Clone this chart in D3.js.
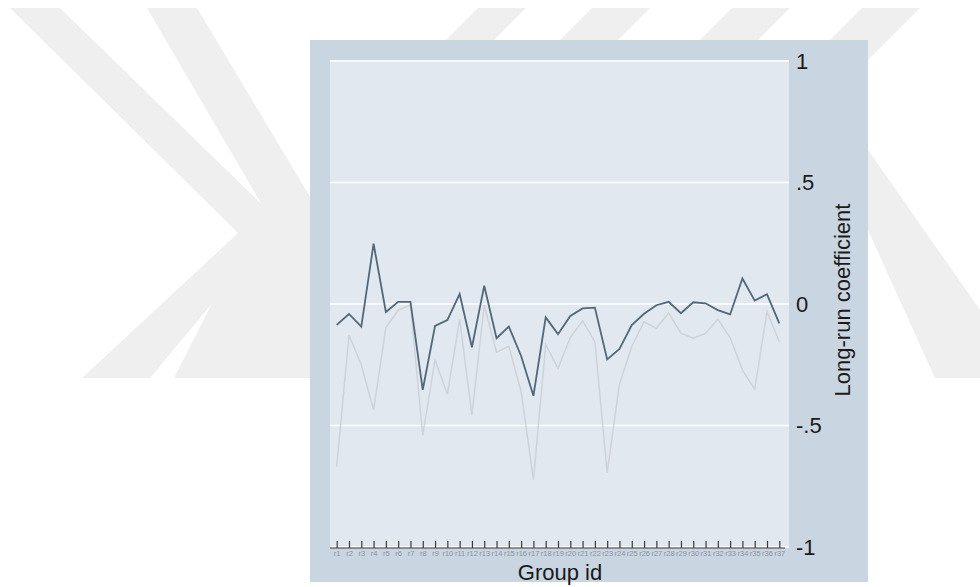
<!DOCTYPE html>
<html>
<head>
<meta charset="utf-8">
<script src="https://cdn.jsdelivr.net/npm/d3@7"></script>
<style>
  html, body { margin: 0; padding: 0; background: #ffffff; }
  svg { display: block; }
  text { font-family: "Liberation Sans", Arial, sans-serif; }
</style>
</head>
<body>
<svg id="chart" width="980" height="587"></svg>
<script>
// Group identifiers r1 ... r37
const groups = ["r1","r2","r3","r4","r5","r6","r7","r8","r9","r10","r11","r12","r13","r14","r15","r16","r17","r18","r19","r20","r21","r22","r23","r24","r25","r26","r27","r28","r29","r30","r31","r32","r33","r34","r35","r36","r37"];

// Long-run coefficient per group (dark series)
const coefMain = [-0.086,-0.041,-0.093,0.248,-0.033,0.009,0.009,-0.353,-0.090,-0.066,0.041,-0.178,0.075,-0.141,-0.093,-0.214,-0.378,-0.055,-0.124,-0.049,-0.018,-0.015,-0.228,-0.185,-0.087,-0.040,-0.005,0.009,-0.038,0.007,0.003,-0.025,-0.043,0.105,0.014,0.040,-0.080];

// Long-run coefficient per group (light series)
const coefAlt = [-0.669,-0.128,-0.250,-0.436,-0.097,-0.026,-0.004,-0.541,-0.229,-0.371,-0.063,-0.457,-0.004,-0.198,-0.174,-0.360,-0.724,-0.167,-0.265,-0.138,-0.069,-0.155,-0.694,-0.330,-0.175,-0.073,-0.100,-0.037,-0.120,-0.141,-0.121,-0.063,-0.138,-0.272,-0.351,-0.032,-0.155];

// Y axis ticks and their labels
const yTicks = [-1, -0.5, 0, 0.5, 1];
const yTickLabels = ["-1", "-.5", "0", ".5", "1"];

const svg = d3.select("#chart");

// ---- faint background emblem (nested chevrons and slanted stripes) ----
const wm = svg.append("g").attr("fill", "#efefef");
const slash = (x0, w, top, bottom) => [
  [x0, top], [x0 + w, top], [x0 + w - (bottom - top), bottom], [x0 - (bottom - top), bottom]
];
const shapes = [
  // inner chevron
  [[10, 8], [60, 8], [280, 222], [150, 378], [82, 378], [238, 233]],
  // outer chevron, its point runs behind the graph region
  [[147, 8], [197, 8], [330, 230], [330, 378], [174, 378], [262, 205]],
  slash(478, 48, 8, 60),
  slash(592, 58, 8, 60),
  slash(732, 58, 8, 60),
  slash(862, 58, 8, 60),
  // back-slash band right of the graph region
  [[868, 150], [980, 310], [980, 378], [935, 378], [868, 230]]
];
wm.selectAll("path").data(shapes).join("path")
  .attr("d", d => "M" + d.map(p => p.join(",")).join("L") + "Z");

// ---- graph region ----
const outer = { x: 310, y: 40, w: 558, h: 542 };
const plot = { left: 330, right: 789, top: 60, bottom: 548 };

svg.append("rect")
  .attr("x", outer.x).attr("y", outer.y)
  .attr("width", outer.w).attr("height", outer.h)
  .attr("fill", "#c9d5e0");

svg.append("rect")
  .attr("x", plot.left).attr("y", plot.top)
  .attr("width", plot.right - plot.left).attr("height", plot.bottom - plot.top)
  .attr("fill", "#e2e8ef");

// ---- scales ----
const x = d3.scalePoint().domain(groups).range([336.7, 779.3]);
const y = d3.scaleLinear().domain([-1, 1]).range([547, 61]);

// gridlines
svg.append("g").selectAll("line").data(yTicks).join("line")
  .attr("x1", plot.left).attr("x2", plot.right)
  .attr("y1", d => y(d)).attr("y2", d => y(d))
  .attr("stroke", "#ffffff").attr("stroke-width", 1.6);

// ---- series lines ----
const line = d3.line().x((d, i) => x(groups[i])).y(d => y(d));

svg.append("path").datum(coefAlt)
  .attr("d", line).attr("fill", "none")
  .attr("stroke", "#cdd3d9").attr("stroke-width", 1.5)
  .attr("stroke-linejoin", "miter");

svg.append("path").datum(coefMain)
  .attr("d", line).attr("fill", "none")
  .attr("stroke", "#50687a").attr("stroke-width", 1.8)
  .attr("stroke-linejoin", "miter");

// ---- x axis ----
const xAxis = d3.axisBottom(x).tickSizeInner(-7).tickSizeOuter(0).tickPadding(3);
const gx = svg.append("g").attr("transform", `translate(0,${plot.bottom})`).call(xAxis);
gx.select(".domain").remove();
gx.selectAll(".tick line").attr("stroke", "#3a3a3a").attr("stroke-width", 1.2);
gx.selectAll(".tick text")
  .attr("fill", "#8a929b").attr("font-size", 7.5)
  .attr("font-family", "'Liberation Sans', Arial, sans-serif");
gx.append("line")
  .attr("x1", plot.left).attr("x2", 785)
  .attr("y1", 0).attr("y2", 0)
  .attr("stroke", "#3a3a3a").attr("stroke-width", 1.2);

// ---- y axis (right) ----
const yAxis = d3.axisRight(y).tickValues(yTicks)
  .tickFormat((d, i) => yTickLabels[i]).tickSize(0).tickPadding(7);
const gy = svg.append("g").attr("transform", `translate(${plot.right},0)`).call(yAxis);
gy.select(".domain").remove();
gy.selectAll(".tick text")
  .attr("fill", "#1a1a1a").attr("font-size", 22)
  .attr("font-family", "'Liberation Sans', Arial, sans-serif");

// ---- axis titles ----
svg.append("text")
  .attr("transform", "translate(850,300) rotate(-90)")
  .attr("text-anchor", "middle")
  .attr("font-size", 22).attr("fill", "#1a1a1a")
  .text("Long-run coefficient");

svg.append("text")
  .attr("x", 560).attr("y", 580)
  .attr("text-anchor", "middle")
  .attr("font-size", 22).attr("fill", "#1a1a1a")
  .text("Group id");
</script>
</body>
</html>
